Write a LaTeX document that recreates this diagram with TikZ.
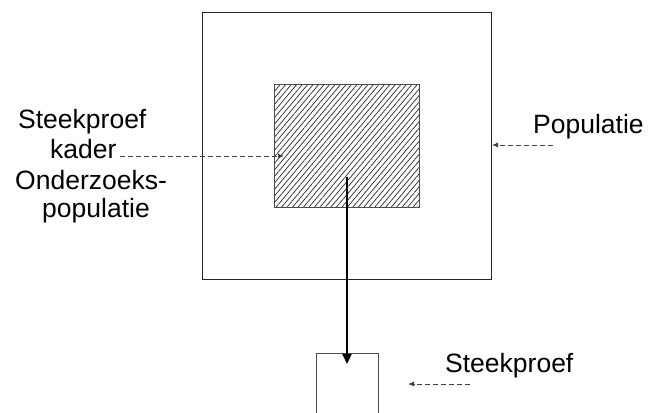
\documentclass[tikz,border=0pt]{standalone}
\usepackage{fontspec}
\setmainfont{Liberation Sans}
\usetikzlibrary{patterns.meta,arrows.meta}
\begin{document}
\begin{tikzpicture}[x=1pt,y=-1pt,
  lbl/.style={font=\fontsize{26.5}{30}\selectfont, inner sep=0pt, anchor=base west},
  box/.style={draw=black!85, line width=1pt},
  dasharrow/.style={draw=black!75, line width=0.9pt, dash pattern=on 5pt off 3pt, -{Latex[length=6pt,width=5pt]}},
  mainarrow/.style={draw=black, line width=2.2pt, -{Triangle[length=10pt,width=9pt]}}]
\useasboundingbox (0,0) rectangle (650,412);
% shapes
\node[box, minimum width=289pt, minimum height=267pt, anchor=north west, inner sep=0pt] (pop) at (202,12) {};
\node[draw=black!70, line width=1pt, pattern={Lines[angle=50, distance=4.2pt, line width=0.7pt]}, pattern color=black!85, minimum width=145pt, minimum height=123pt, anchor=north west, inner sep=0pt] (frame) at (274,84) {};
\node[box, draw=black!70, minimum width=62pt, minimum height=70pt, anchor=north west, inner sep=0pt] (sample) at (316,353) {};
% labels
\node[lbl] (l1) at (18,128) {Steekproef};
\node[lbl] (kader) at (50,158) {kader};
\node[lbl] (l3) at (15,189) {Onderzoeks-};
\node[lbl] (l4) at (42,217) {populatie};
\node[lbl] (poplbl) at (533,133) {Populatie};
\node[lbl] (samplbl) at (445,372) {Steekproef};
% connector coordinates
\coordinate (kd) at (120,156);
\coordinate (ft) at (284,156);
\coordinate (ps) at (553,145);
\coordinate (pt) at (492,145);
\coordinate (ss) at (470,384);
\coordinate (st) at (408,384);
\coordinate (as) at (347,177);
\coordinate (at) at (347,364);
% connectors
\draw[dasharrow] (kd) -- (ft);
\draw[dasharrow] (ps) -- (pt);
\draw[dasharrow] (ss) -- (st);
\draw[mainarrow] (as) -- (at);
\end{tikzpicture}
\end{document}
